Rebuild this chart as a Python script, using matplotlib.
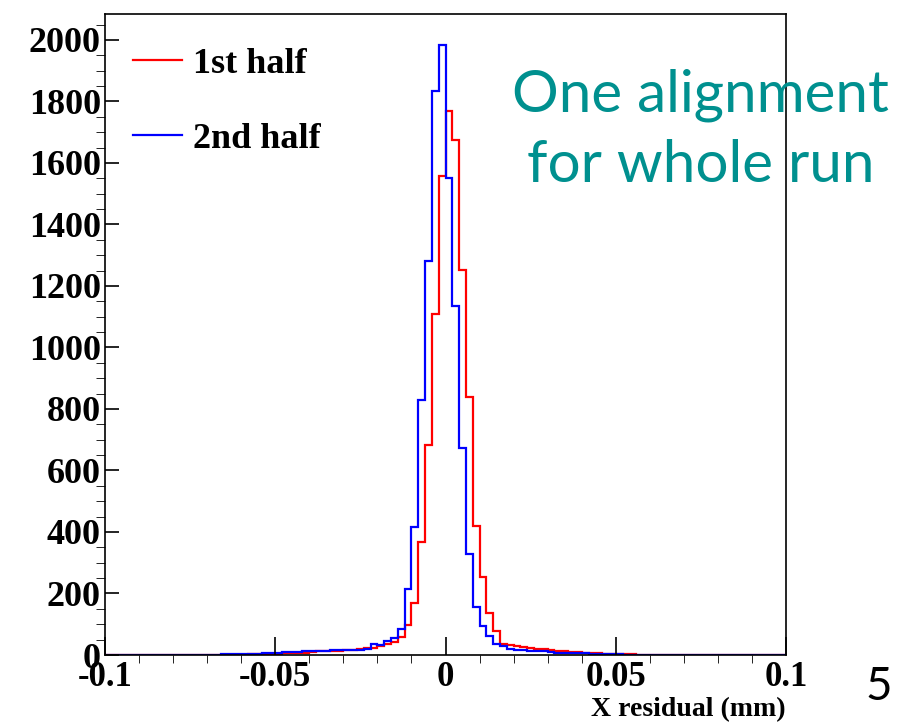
import numpy as np
import matplotlib.pyplot as plt
from matplotlib.ticker import MultipleLocator, FormatStrFormatter

plt.rcParams.update({
    "font.family": "Liberation Serif",
    "font.weight": "bold",
    "font.size": 26,
    "axes.unicode_minus": False,
})

# 100 bins from -0.1 to 0.1 mm, counts
bin_edges = np.linspace(-0.1, 0.1, 101)

first_half = [0] * 19 + [
    1, 1, 2, 2, 3, 3, 4, 5, 6, 7,                      # 19-28
    8, 10, 12, 13, 13, 14, 16, 17, 20, 22,             # 29-38
    24, 28, 35, 42, 60, 97, 170, 368, 683, 1109,       # 39-48
    1558, 1769, 1673, 1252, 840, 420, 253, 135, 78, 37,  # 49-58
    32, 29, 26, 24, 21, 18, 15, 13, 14, 11,            # 59-68
    9, 7, 6, 5, 4, 4, 3, 2, 2, 1, 1,                   # 69-79
] + [0] * 20

second_half = [0] * 15 + [
    1, 1, 2, 2, 3, 3, 4, 4, 5, 6,                      # 15-24
    8, 9, 10, 11, 12, 12, 14, 14, 15, 15,              # 25-34
    16, 15, 17, 20, 36, 33, 47, 55, 85, 214,           # 35-44
    415, 828, 1281, 1834, 1985, 1552, 1135, 672, 327, 157,  # 45-54
    95, 63, 36, 28, 20, 17, 15, 14, 13, 12,            # 55-64
    10, 8, 8, 7, 5, 5, 4, 3, 3, 2,                     # 65-74
    2, 1, 1, 1, 1,                                     # 75-79
] + [0] * 20

labels = ["1st half", "2nd half"]
colors = ["#ff0000", "#0000ff"]

fig = plt.figure(figsize=(9.02, 7.23), dpi=100)
ax = fig.add_axes([105 / 902, 1 - 655 / 723, (786 - 105) / 902, (655 - 14) / 723])

for vals, lab, col in zip([first_half, second_half], labels, colors):
    ax.stairs(vals, bin_edges, baseline=None, color=col, linewidth=1.6, label=lab)

ax.set_xlim(-0.1, 0.1)
ax.set_ylim(0, 1.05 * max(second_half))

ax.xaxis.set_major_locator(MultipleLocator(0.05))
ax.xaxis.set_minor_locator(MultipleLocator(0.01))
ax.yaxis.set_major_locator(MultipleLocator(200))
ax.yaxis.set_minor_locator(MultipleLocator(50))
ax.xaxis.set_major_formatter(plt.FuncFormatter(lambda v, p: "0" if abs(v) < 1e-9 else f"{v:g}"))
ax.yaxis.set_major_formatter(FormatStrFormatter("%d"))

ax.tick_params(direction="in", top=False, right=False, width=1.2, colors="black")
ax.tick_params(axis="x", which="major", length=13, pad=4, labelsize=25)
ax.tick_params(axis="x", which="minor", length=6)
ax.tick_params(axis="y", which="major", length=10, pad=3)
ax.tick_params(axis="y", which="minor", length=6.5)
for s in ax.spines.values():
    s.set_linewidth(1.2)

# axis title sits right-aligned against the bottom edge of the page
ax.set_xlabel("X residual (mm)", fontsize=20, fontweight="bold", ha="right", va="bottom")
ax.xaxis.set_label_coords(1.0, -0.1045)

ax.legend(loc="upper left", bbox_to_anchor=(0.02, 0.97), frameon=False,
          handlelength=1.35, handletextpad=0.3, labelspacing=1.15, fontsize=26,
          borderaxespad=0)

fig.text(0.777, 0.82, "One alignment\nfor whole run", color="#00908f",
         family="Lato", fontsize=42, ha="center", va="center",
         linespacing=1.4, fontweight="normal")
fig.text(0.974, 0.05, "5", family="Lato", fontsize=33, ha="center", va="center",
         fontweight="normal", color="black")

fig.savefig("out.png", dpi=100)
